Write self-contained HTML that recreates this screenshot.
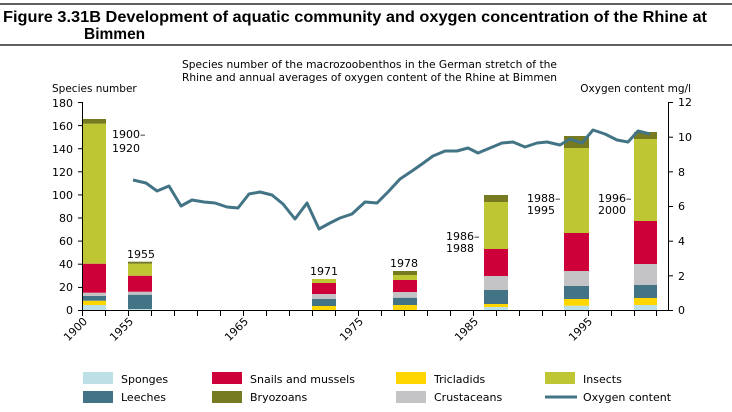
<!DOCTYPE html>
<html><head><meta charset="utf-8"><style>
body{margin:0;background:#fff;}
svg{display:block;font-family:"DejaVu Sans","Liberation Sans",sans-serif;}
</style></head><body>
<svg width="732" height="412" viewBox="0 0 732 412" xmlns="http://www.w3.org/2000/svg">
<line x1="0" y1="4" x2="732" y2="4" stroke="#000" stroke-width="1.3"/>
<line x1="0" y1="45" x2="732" y2="45" stroke="#000" stroke-width="1.3"/>
<text x="3" y="22" font-family="Liberation Sans, sans-serif" font-weight="bold" font-size="15.5" textLength="704" lengthAdjust="spacingAndGlyphs">Figure 3.31B  Development of aquatic community and oxygen concentration of the Rhine at</text>
<text x="84" y="39" font-family="Liberation Sans, sans-serif" font-weight="bold" font-size="15.5">Bimmen</text>
<g font-size="10.5" fill="#000">
<text x="182" y="68" textLength="375" lengthAdjust="spacingAndGlyphs">Species number of the macrozoobenthos in the German stretch of the</text>
<text x="182" y="81" textLength="375" lengthAdjust="spacingAndGlyphs">Rhine and annual averages of oxygen content of the Rhine at Bimmen</text>
<text x="52" y="92">Species number</text>
<text x="691" y="92" text-anchor="end">Oxygen content mg/l</text>
</g>
<g stroke="#000" stroke-width="1">
<line x1="82.5" y1="102" x2="82.5" y2="310"/>
<line x1="668.5" y1="102" x2="668.5" y2="310"/>
<line x1="82" y1="310.5" x2="669" y2="310.5"/>
</g>
<g font-size="11" text-anchor="end">
<text x="73" y="314">0</text><text x="73" y="291">20</text><text x="73" y="268">40</text><text x="73" y="245">60</text><text x="73" y="222">80</text><text x="73" y="199">100</text><text x="73" y="176">120</text><text x="73" y="153">140</text><text x="73" y="130">160</text><text x="73" y="107">180</text>
</g>
<g stroke="#000"><line x1="78" x2="82" y1="310.5" y2="310.5"/><line x1="78" x2="82" y1="287.4" y2="287.4"/><line x1="78" x2="82" y1="264.2" y2="264.2"/><line x1="78" x2="82" y1="241.1" y2="241.1"/><line x1="78" x2="82" y1="218" y2="218"/><line x1="78" x2="82" y1="194.9" y2="194.9"/><line x1="78" x2="82" y1="171.8" y2="171.8"/><line x1="78" x2="82" y1="148.7" y2="148.7"/><line x1="78" x2="82" y1="125.6" y2="125.6"/><line x1="78" x2="82" y1="102.5" y2="102.5"/>
<line x1="668" x2="673" y1="310.5" y2="310.5"/><line x1="668" x2="673" y1="275.8" y2="275.8"/><line x1="668" x2="673" y1="241.2" y2="241.2"/><line x1="668" x2="673" y1="206.5" y2="206.5"/><line x1="668" x2="673" y1="171.8" y2="171.8"/><line x1="668" x2="673" y1="137.2" y2="137.2"/><line x1="668" x2="673" y1="102.5" y2="102.5"/></g>
<g font-size="11">
<text x="678" y="314">0</text><text x="678" y="280">2</text><text x="678" y="245">4</text><text x="678" y="210">6</text><text x="678" y="176">8</text><text x="678" y="141">10</text><text x="678" y="106">12</text>
</g>
<g stroke="#000">
<line x1="82.5" x2="82.5" y1="310" y2="316"/><line x1="105.5" x2="105.5" y1="310" y2="316"/><line x1="128.5" x2="128.5" y1="310" y2="316"/><line x1="151.5" x2="151.5" y1="310" y2="316"/><line x1="174.5" x2="174.5" y1="310" y2="316"/><line x1="197.5" x2="197.5" y1="310" y2="316"/><line x1="220.5" x2="220.5" y1="310" y2="316"/><line x1="243.5" x2="243.5" y1="310" y2="316"/><line x1="266.5" x2="266.5" y1="310" y2="316"/><line x1="289.5" x2="289.5" y1="310" y2="316"/><line x1="312.5" x2="312.5" y1="310" y2="316"/><line x1="335.5" x2="335.5" y1="310" y2="316"/><line x1="358.5" x2="358.5" y1="310" y2="316"/><line x1="381.5" x2="381.5" y1="310" y2="316"/><line x1="404.5" x2="404.5" y1="310" y2="316"/><line x1="427.5" x2="427.5" y1="310" y2="316"/><line x1="450.5" x2="450.5" y1="310" y2="316"/><line x1="473.5" x2="473.5" y1="310" y2="316"/><line x1="496.5" x2="496.5" y1="310" y2="316"/><line x1="519.5" x2="519.5" y1="310" y2="316"/><line x1="542.5" x2="542.5" y1="310" y2="316"/><line x1="565.5" x2="565.5" y1="310" y2="316"/><line x1="588.5" x2="588.5" y1="310" y2="316"/><line x1="611.5" x2="611.5" y1="310" y2="316"/><line x1="634.5" x2="634.5" y1="310" y2="316"/><line x1="656.5" x2="656.5" y1="310" y2="316"/>
</g>
<g font-size="11" text-anchor="end">
<text transform="translate(88,322) rotate(-45)">1900</text>
<text transform="translate(134,322) rotate(-45)">1955</text>
<text transform="translate(249,322) rotate(-45)">1965</text>
<text transform="translate(364,322) rotate(-45)">1975</text>
<text transform="translate(479,322) rotate(-45)">1985</text>
<text transform="translate(593,322) rotate(-45)">1995</text>
</g>
<g>
<rect x="83" y="305" width="23" height="5" fill="#bde0e7"/>
<rect x="83" y="300.7" width="23" height="4.3" fill="#ffd600"/>
<rect x="83" y="296" width="23" height="4.7" fill="#437486"/>
<rect x="83" y="292.7" width="23" height="3.3" fill="#c4c4c6"/>
<rect x="83" y="263.7" width="23" height="29" fill="#cd0039"/>
<rect x="83" y="123.7" width="23" height="140" fill="#bec733"/>
<rect x="83" y="119" width="23" height="4.7" fill="#767a20"/>
<rect x="128" y="309" width="24" height="1" fill="#bde0e7"/>
<rect x="128" y="294.7" width="24" height="14.3" fill="#437486"/>
<rect x="128" y="291.7" width="24" height="3" fill="#c4c4c6"/>
<rect x="128" y="275.7" width="24" height="16" fill="#cd0039"/>
<rect x="128" y="263.7" width="24" height="12" fill="#bec733"/>
<rect x="128" y="261.7" width="24" height="2" fill="#767a20"/>
<rect x="312" y="306" width="24" height="4" fill="#ffd600"/>
<rect x="312" y="299" width="24" height="7" fill="#437486"/>
<rect x="312" y="294" width="24" height="5" fill="#c4c4c6"/>
<rect x="312" y="283" width="24" height="11" fill="#cd0039"/>
<rect x="312" y="279" width="24" height="4" fill="#bec733"/>
<rect x="393" y="305" width="24" height="5" fill="#ffd600"/>
<rect x="393" y="297.7" width="24" height="7.3" fill="#437486"/>
<rect x="393" y="292" width="24" height="5.7" fill="#c4c4c6"/>
<rect x="393" y="280" width="24" height="12" fill="#cd0039"/>
<rect x="393" y="275" width="24" height="5" fill="#bec733"/>
<rect x="393" y="271" width="24" height="4" fill="#767a20"/>
<rect x="484" y="307" width="24" height="3" fill="#bde0e7"/>
<rect x="484" y="304" width="24" height="3" fill="#ffd600"/>
<rect x="484" y="290" width="24" height="14" fill="#437486"/>
<rect x="484" y="276" width="24" height="14" fill="#c4c4c6"/>
<rect x="484" y="249" width="24" height="27" fill="#cd0039"/>
<rect x="484" y="202" width="24" height="47" fill="#bec733"/>
<rect x="484" y="195" width="24" height="7" fill="#767a20"/>
<rect x="564" y="305.7" width="25" height="4.3" fill="#bde0e7"/>
<rect x="564" y="299" width="25" height="6.7" fill="#ffd600"/>
<rect x="564" y="286" width="25" height="13" fill="#437486"/>
<rect x="564" y="271" width="25" height="15" fill="#c4c4c6"/>
<rect x="564" y="233" width="25" height="38" fill="#cd0039"/>
<rect x="564" y="148" width="25" height="85" fill="#bec733"/>
<rect x="564" y="136" width="25" height="12" fill="#767a20"/>
<rect x="634" y="305" width="23" height="5" fill="#bde0e7"/>
<rect x="634" y="298" width="23" height="7" fill="#ffd600"/>
<rect x="634" y="285" width="23" height="13" fill="#437486"/>
<rect x="634" y="264" width="23" height="21" fill="#c4c4c6"/>
<rect x="634" y="221" width="23" height="43" fill="#cd0039"/>
<rect x="634" y="139" width="23" height="82" fill="#bec733"/>
<rect x="634" y="132" width="23" height="7" fill="#767a20"/>
</g>
<polyline fill="none" stroke="#437486" stroke-width="3" stroke-linejoin="round" points="133,180 146,183 157,191 169,186 181,206 192,200 204,202 215,203 227,207 238,208 249,194 260,192 272,195 283,204 295,219 307,203 319,229 330,223 340,218 352,214 365,202 377,203 388,192 400,179 412,171 422,164 433,156 445,151 457,151 468,148 478,153 490,148 502,143 513,142 525,147 537,143 547,142 560,145 570,139 582,143 593,130 605,134 617,140 628,142 638,131 650,134"/>
<g font-size="11">
<text x="112" y="138">1900–</text><text x="112" y="152">1920</text>
<text x="127" y="258">1955</text>
<text x="310" y="275">1971</text>
<text x="390" y="267">1978</text>
<text x="446" y="240">1986–</text><text x="446" y="252">1988</text>
<text x="527" y="202">1988–</text><text x="527" y="214">1995</text>
<text x="598" y="202">1996–</text><text x="598" y="214">2000</text>
</g>
<g font-size="11">
<rect x="83" y="372" width="30" height="12" fill="#bde0e7"/><text x="121" y="383">Sponges</text>
<rect x="83" y="391" width="30" height="12" fill="#437486"/><text x="121" y="401">Leeches</text>
<rect x="212" y="372" width="30" height="12" fill="#cd0039"/><text x="250" y="383">Snails and mussels</text>
<rect x="212" y="391" width="30" height="12" fill="#767a20"/><text x="250" y="401">Bryozoans</text>
<rect x="396" y="372" width="30" height="12" fill="#ffd600"/><text x="434" y="383">Tricladids</text>
<rect x="396" y="391" width="30" height="12" fill="#c4c4c6"/><text x="434" y="401">Crustaceans</text>
<rect x="545" y="372" width="30" height="12" fill="#bec733"/><text x="583" y="383">Insects</text>
<line x1="545" y1="397" x2="577" y2="397" stroke="#437486" stroke-width="3"/><text x="583" y="401">Oxygen content</text>
</g>
</svg>
</body></html>
